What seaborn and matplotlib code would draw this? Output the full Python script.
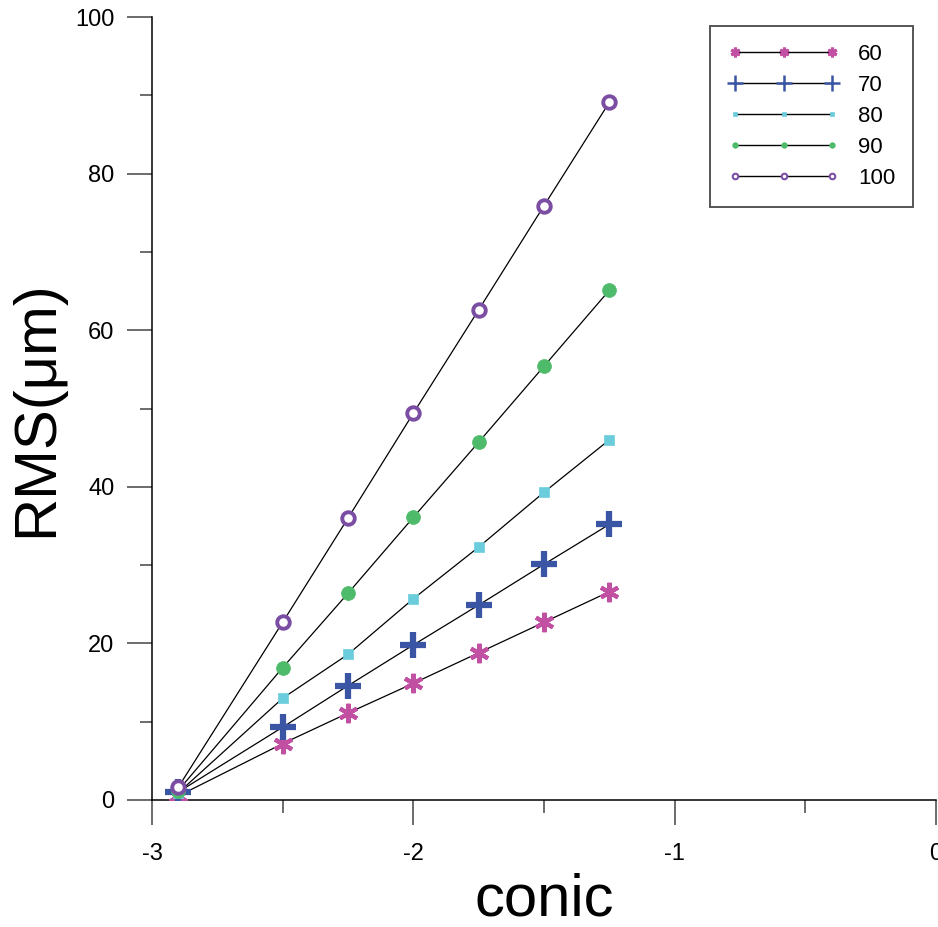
import numpy as np
import pandas as pd
import matplotlib
matplotlib.use('Agg')
import matplotlib.pyplot as plt
from matplotlib.lines import Line2D
from matplotlib.ticker import MultipleLocator
import seaborn as sns

# ========== data ==========
conic = [-2.9, -2.5, -2.25, -2.0, -1.75, -1.5, -1.25]
rms_60 = [0.5, 7.2, 11.1, 14.9, 18.8, 22.7, 26.6]
rms_70 = [1.0, 9.3, 14.6, 19.8, 24.9, 30.1, 35.2]
rms_80 = [0.9, 13.0, 18.6, 25.7, 32.3, 39.3, 46.0]
rms_90 = [1.2, 16.9, 26.4, 36.1, 45.7, 55.4, 65.1]
rms_100 = [1.6, 22.7, 36.0, 49.4, 62.6, 75.9, 89.1]
series_labels = ['60', '70', '80', '90', '100']

# ========== style ==========
sns.set_style('ticks')
plt.rcParams['font.family'] = ['Liberation Sans', 'DejaVu Sans']
plt.rcParams['text.color'] = 'black'
plt.rcParams['axes.labelcolor'] = 'black'
plt.rcParams['xtick.labelcolor'] = 'black'
plt.rcParams['ytick.labelcolor'] = 'black'

ASTER = (6, 2, 0)
styles = {
    '60':  dict(marker=ASTER, color='#C150A2', ms=14, mew=3.0, mfc='#C150A2', lms=7, lmew=2.2),
    '70':  dict(marker='+', color='#3A55A4', ms=19, mew=4.5, mfc='#3A55A4', lms=12, lmew=1.8),
    '80':  dict(marker='s', color='#6BCDDB', ms=7, mew=0.5, mfc='#6BCDDB', lms=3, lmew=0.5),
    '90':  dict(marker='o', color='#4DBB6A', ms=10, mew=0.5, mfc='#4DBB6A', lms=4, lmew=0.5),
    '100': dict(marker='o', color='#7B4EA3', ms=9, mew=2.8, mfc='white', lms=4, lmew=1.5),
}

df = pd.DataFrame({'conic': conic, '60': rms_60, '70': rms_70, '80': rms_80,
                   '90': rms_90, '100': rms_100})

fig = plt.figure(figsize=(9.38, 9.27), dpi=100)
ax = fig.add_axes([152/938, 1-800/927, (936-152)/938, (800-17)/927])

for lab in series_labels:
    st = styles[lab]
    sns.lineplot(data=df, x='conic', y=lab, ax=ax, color='black', lw=0.9,
                 marker=st['marker'], markersize=st['ms'], markeredgewidth=st['mew'],
                 markerfacecolor=st['mfc'], markeredgecolor=st['color'],
                 sort=False, zorder=3)

ax.set_xlim(-3, 0)
ax.set_ylim(0, 100)
ax.xaxis.set_minor_locator(MultipleLocator(0.5))
ax.yaxis.set_major_locator(MultipleLocator(20))
ax.yaxis.set_minor_locator(MultipleLocator(10))
ax.set_xticks([-3, -2, -1, 0])
ax.set_xticklabels(['-3', '-2', '-1', '0'])

for s in ['left', 'bottom']:
    ax.spines[s].set_linewidth(1.1)
    ax.spines[s].set_color('black')
sns.despine(ax=ax)

ax.tick_params(axis='both', which='major', length=18, width=1.1, color='#444444', labelsize=17)
ax.tick_params(axis='both', which='minor', length=9, width=1.1, color='#444444')
ax.tick_params(axis='x', which='major', pad=13)
ax.tick_params(axis='y', which='major', pad=9)

ax.set_xlabel('conic', fontsize=43)
ax.set_ylabel('RMS(μm)', fontsize=43)
ax.xaxis.set_label_coords(0.5, -0.092)
ax.yaxis.set_label_coords(-0.112, 0.5)

# legend with small markers
handles = []
for lab in series_labels:
    st = styles[lab]
    handles.append(Line2D([], [], color='black', lw=1.0, marker=st['marker'],
                          markersize=st['lms'], markeredgewidth=st['lmew'],
                          markerfacecolor=st['mfc'], markeredgecolor=st['color']))
leg = fig.legend(handles, series_labels, loc='upper right',
                 bbox_to_anchor=(913/938, 1-26/927), bbox_transform=fig.transFigure,
                 fontsize=16, numpoints=3, handlelength=5.0, handletextpad=0.85,
                 labelspacing=0.45, borderpad=0.8, borderaxespad=0,
                 fancybox=False, framealpha=1)
leg.get_frame().set_edgecolor('#555555')
leg.get_frame().set_linewidth(1.4)

fig.savefig('out.png', dpi=100)
